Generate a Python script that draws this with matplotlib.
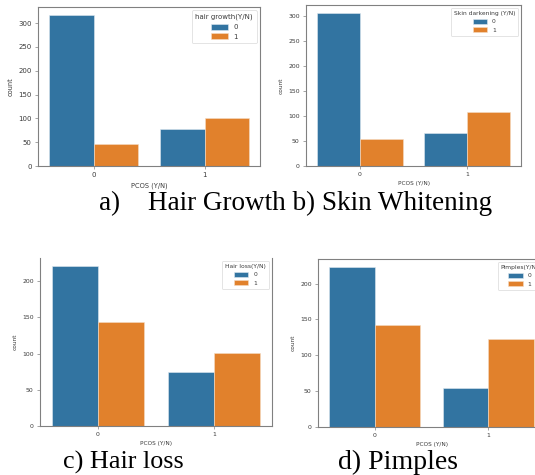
import numpy as np
import matplotlib
matplotlib.use("Agg")
import matplotlib.pyplot as plt

W, H = 535, 475

# PCOS (Y/N) categories on the x axis
pcos = ['0', '1']

# counts per PCOS group, split by the symptom (0 / 1)
hair_growth_0 = [318, 77]
hair_growth_1 = [47, 101]
skin_dark_0 = [307, 67]
skin_dark_1 = [55, 109]
hair_loss_0 = [221, 75]
hair_loss_1 = [143, 101]
pimples_0 = [223, 55]
pimples_1 = [142, 123]

blue = '#3274a1'
orange = '#e1812c'
spine_col = '#808080'
text_col = '#3a3a3a'


def px_axes(fig, left, right, top, bottom):
    # pixel box -> figure fraction
    return fig.add_axes([left / W, 1 - bottom / H, (right - left) / W, (bottom - top) / H])


def countplot(ax, v0, v1, title, fs, leg_fs, top_spine=True):
    x = np.arange(len(pcos))
    b0 = ax.bar(x - 0.2, v0, width=0.4, color=blue, edgecolor='#dfe8f0', linewidth=0.4)
    b1 = ax.bar(x + 0.2, v1, width=0.4, color=orange, edgecolor='#f5dcc5', linewidth=0.4)
    ax.set_xlim(-0.5, 1.5)
    ax.set_ylim(0, max(max(v0), max(v1)) * 1.05)
    ax.set_yticks(np.arange(0, ax.get_ylim()[1], 50))
    ax.set_xticks(x)
    ax.set_xticklabels(pcos)
    ax.tick_params(labelsize=fs, length=2.5, width=0.5, color=spine_col, labelcolor=text_col, pad=2)
    for s in ax.spines.values():
        s.set_color(spine_col)
        s.set_linewidth(0.8)
    if not top_spine:
        ax.spines['top'].set_visible(False)
    ax.set_xlabel('PCOS (Y/N)', fontsize=fs * 0.95, color=text_col, labelpad=3)
    ax.set_ylabel('count', fontsize=fs * 0.95, color=text_col, labelpad=3)
    leg = ax.legend([b0, b1], ['0', '1'], title=title, loc='upper right', fontsize=leg_fs,
                    title_fontsize=leg_fs, frameon=True, handlelength=2.4, handleheight=1.0,
                    borderpad=0.5, labelspacing=0.45)
    leg.get_frame().set_edgecolor('#d0d0d0')
    leg.get_frame().set_linewidth(0.5)
    for t in leg.get_texts():
        t.set_color(text_col)
    leg.get_title().set_color(text_col)


fig = plt.figure(figsize=(W / 100, H / 100), dpi=100)

ax_a = px_axes(fig, 38, 260, 7, 166)
countplot(ax_a, hair_growth_0, hair_growth_1, 'hair growth(Y/N)', 5.0, 5.0)

ax_b = px_axes(fig, 306, 521, 5, 166)
countplot(ax_b, skin_dark_0, skin_dark_1, 'Skin darkening (Y/N)', 4.4, 4.3)

ax_c = px_axes(fig, 40, 272, 258, 426)
countplot(ax_c, hair_loss_0, hair_loss_1, 'Hair loss(Y/N)', 4.4, 4.3, top_spine=False)

ax_d = px_axes(fig, 318, 545, 259, 427)
countplot(ax_d, pimples_0, pimples_1, 'Pimples(Y/N)', 4.4, 4.3)

cap = dict(family='Liberation Serif', color='black', va='baseline', ha='left')
fig.text(99 / W, 1 - 210 / H, 'a)', fontsize=19.5, **cap)
fig.text(148 / W, 1 - 210 / H, 'Hair Growth b) Skin Whitening', fontsize=19.5, **cap)
fig.text(63 / W, 1 - 469 / H, 'c) Hair loss', fontsize=18.8, **cap)
fig.text(338 / W, 1 - 469 / H, 'd) Pimples', fontsize=20, **cap)

fig.savefig('out.png', dpi=100)
